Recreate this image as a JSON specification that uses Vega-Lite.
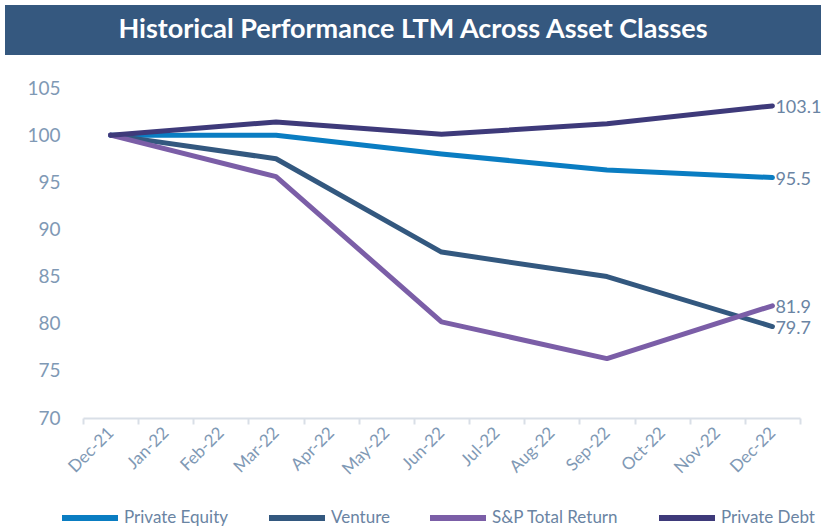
{
  "$schema": "https://vega.github.io/schema/vega-lite/v6.json",
  "padding": {"left": 5, "top": 5, "right": 0, "bottom": 0},
  "background": "white",
  "spacing": 24,
  "config": {"view": {"stroke": null}, "font": "Lato"},
  "vconcat": [
    {
      "width": 717,
      "height": 50,
      "data": {"values": [{"title": "Historical Performance LTM Across Asset Classes"}]},
      "layer": [
        {
          "mark": {"type": "rect", "color": "#35587F"},
          "encoding": {
            "x": {"datum": 0, "type": "quantitative", "scale": {"domain": [0, 1], "range": [-78, 738]}, "axis": null},
            "x2": {"datum": 1}
          }
        },
        {
          "mark": {"type": "text", "color": "white", "fontSize": 27, "fontWeight": "bold", "font": "Lato"},
          "encoding": {
            "x": {"datum": 0.5, "type": "quantitative"},
            "text": {"field": "title"}
          }
        }
      ]
    },
    {
      "width": 717,
      "height": 330,
      "data": {"values": [
        {"month": "Dec-21", "series": "Private Equity", "value": 100},
        {"month": "Mar-22", "series": "Private Equity", "value": 100},
        {"month": "Jun-22", "series": "Private Equity", "value": 98.0},
        {"month": "Sep-22", "series": "Private Equity", "value": 96.3},
        {"month": "Dec-22", "series": "Private Equity", "value": 95.5},
        {"month": "Dec-21", "series": "Venture", "value": 100},
        {"month": "Mar-22", "series": "Venture", "value": 97.5},
        {"month": "Jun-22", "series": "Venture", "value": 87.6},
        {"month": "Sep-22", "series": "Venture", "value": 85.0},
        {"month": "Dec-22", "series": "Venture", "value": 79.7},
        {"month": "Dec-21", "series": "S&P Total Return", "value": 100},
        {"month": "Mar-22", "series": "S&P Total Return", "value": 95.6},
        {"month": "Jun-22", "series": "S&P Total Return", "value": 80.2},
        {"month": "Sep-22", "series": "S&P Total Return", "value": 76.3},
        {"month": "Dec-22", "series": "S&P Total Return", "value": 81.9},
        {"month": "Dec-21", "series": "Private Debt", "value": 100},
        {"month": "Mar-22", "series": "Private Debt", "value": 101.4},
        {"month": "Jun-22", "series": "Private Debt", "value": 100.1},
        {"month": "Sep-22", "series": "Private Debt", "value": 101.2},
        {"month": "Dec-22", "series": "Private Debt", "value": 103.1}
      ]},
      "encoding": {
        "x": {
          "field": "month", "type": "ordinal",
          "scale": {"type": "band", "paddingInner": 0, "paddingOuter": 0,
            "domain": ["Dec-21", "Jan-22", "Feb-22", "Mar-22", "Apr-22", "May-22", "Jun-22", "Jul-22", "Aug-22", "Sep-22", "Oct-22", "Nov-22", "Dec-22"]},
          "axis": {"title": null, "labelAngle": -45, "labelAlign": "right", "labelBaseline": "middle",
            "labelFontSize": 17, "labelColor": "#7F99B5", "tickBand": "extent",
            "tickColor": "#D9DFE7", "domainColor": "#D9DFE7", "tickSize": 6, "tickWidth": 2, "domainWidth": 2,
            "labelPadding": 6, "grid": false}
        },
        "y": {
          "field": "value", "type": "quantitative",
          "scale": {"domain": [70, 105], "nice": false, "zero": false},
          "axis": {"title": null, "values": [70, 75, 80, 85, 90, 95, 100, 105], "domain": false, "ticks": false, "grid": false,
            "labelFontSize": 19, "labelColor": "#7F99B5", "labelPadding": 23, "minExtent": 78, "maxExtent": 78}
        }
      },
      "layer": [
        {
          "mark": {"type": "line", "strokeWidth": 5, "strokeCap": "round", "strokeJoin": "round"},
          "encoding": {
            "color": {
              "field": "series", "type": "nominal",
              "scale": {"domain": ["Private Equity", "Venture", "S&P Total Return", "Private Debt"],
                "range": ["#0A7DC2", "#33587F", "#7B5EA7", "#3E3A7A"]},
              "legend": {"orient": "none", "legendX": -24, "legendY": 482, "direction": "horizontal", "title": null,
                "symbolType": "stroke", "symbolSize": 3136, "symbolStrokeWidth": 6,
                "labelFontSize": 17, "labelColor": "#6A84A3", "columnPadding": 28, "labelOffset": 3}
            }
          }
        },
        {
          "transform": [{"filter": "datum.month === 'Dec-22'"}],
          "mark": {"type": "text", "align": "left", "dx": 3, "dy": 2, "fontSize": 18, "color": "#6A84A3"},
          "encoding": {"text": {"field": "value", "type": "quantitative", "format": ".1f"}}
        }
      ]
    }
  ]
}
